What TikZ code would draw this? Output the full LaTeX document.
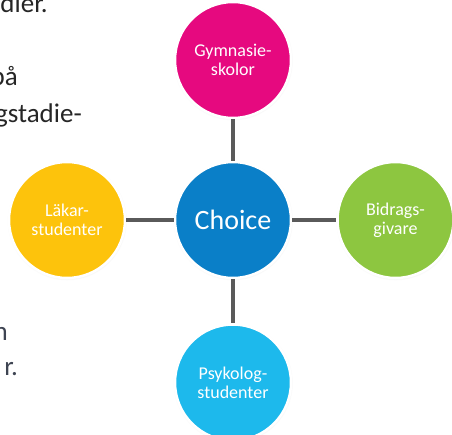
\documentclass[tikz,border=0pt]{standalone}
\usepackage{fontspec}
\setmainfont{Carlito}
\usepackage{tikz}
\usetikzlibrary{positioning,shadows}

\definecolor{gymcol}{HTML}{E6097F}
\definecolor{choicecol}{HTML}{0A7FC8}
\definecolor{lakcol}{HTML}{FDC30C}
\definecolor{bidcol}{HTML}{8DC640}
\definecolor{psykcol}{HTML}{1DB9EC}
\definecolor{linkcol}{HTML}{5A5A5A}
\definecolor{bodycol}{HTML}{262626}
\definecolor{bodycolb}{HTML}{3E4452}

\tikzset{
  bubble/.style={circle, minimum size=116pt, inner sep=0pt, draw=white,
    line width=2.5pt, text=white, align=center,
    font=\fontsize{18}{19}\selectfont,
    circular drop shadow={shadow xshift=0pt, shadow yshift=-0.5pt,
      shadow scale=1.035, opacity=.25}},
  link/.style={draw=linkcol, line width=4pt},
  bodytext/.style={anchor=base east, inner sep=0pt, text=bodycol,
    font=\fontsize{27}{36}\selectfont}
}

\begin{document}
\begin{tikzpicture}[x=1pt, y=1pt, node distance=44pt]

  \useasboundingbox (-233,-214) rectangle (219,220);
  \clip (-233,-214) rectangle (219,220);

  % running text cut off at the left
  \node[bodytext] (l1) at (-185,207)  {dier.};
  \node[bodytext] (l2) at (-215,134)  {på};
  \node[bodytext] (l3) at (-151,98)   {gstadie-};
  \node[bodytext, text=bodycolb] (l4) at (-225,-120) {n};
  \node[bodytext, text=bodycolb] (l5) at (-215,-155) {r.};

  \node[bubble, fill=choicecol, font=\fontsize{28}{30}\selectfont] (choice) at (0,0) {Choice};
  \node[bubble, fill=gymcol]  (gym)    [above=41.5pt of choice] {Gymnasie-\\skolor};
  \node[bubble, fill=lakcol]  (lakar)  [left=47.5pt of choice]  {Läkar-\\studenter};
  \node[bubble, fill=bidcol]  (bidrag) [right=of choice]        {Bidrags-\\givare};
  \node[bubble, fill=psykcol] (psyk)   [below=of choice]        {Psykolog-\\studenter};

  \path[link] (gym) -- (choice)
              (lakar) -- (choice)
              (choice) -- (bidrag)
              (choice) -- (psyk);

\end{tikzpicture}
\end{document}
